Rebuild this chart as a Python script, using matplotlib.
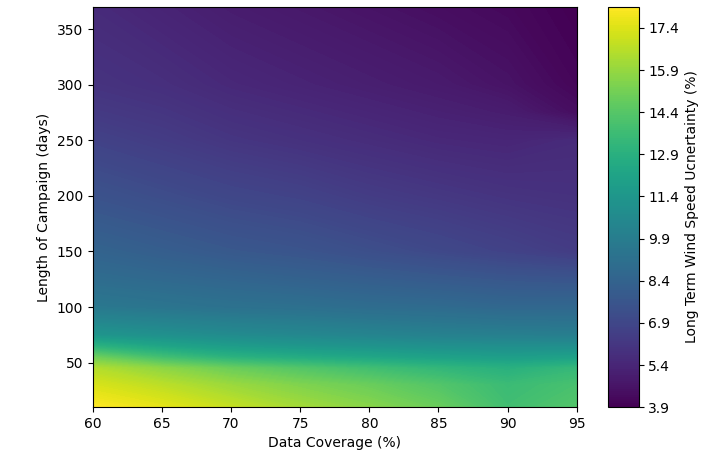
import numpy as np
import matplotlib
matplotlib.use("Agg")
import matplotlib.pyplot as plt

# Data coverage (%) and campaign length (days)
coverage = [60, 65, 70, 75, 80, 85, 90, 95]
days = [10, 30, 45, 55, 65, 75, 100, 125, 150, 200, 250, 275, 300, 370]

# Long term wind speed uncertainty (%) - one row per campaign length
u_10 = [18.15, 17.6, 16.9, 16.2, 15.6, 14.9, 13.8, 14.3]
u_30 = [17.3, 16.7, 16.0, 15.4, 14.9, 14.3, 13.6, 14.0]
u_45 = [16.5, 15.7, 14.9, 14.3, 13.8, 13.3, 12.9, 13.4]
u_55 = [15.0, 13.8, 13.0, 12.6, 12.3, 12.0, 11.8, 12.0]
u_65 = [13.0, 12.2, 11.7, 11.4, 11.2, 11.0, 10.9, 10.9]
u_75 = [11.3, 11.0, 10.7, 10.5, 10.3, 10.1, 10.0, 9.9]
u_100 = [9.6, 9.4, 9.2, 9.1, 8.9, 8.8, 8.6, 8.6]
u_125 = [8.9, 8.7, 8.5, 8.3, 8.1, 7.9, 7.7, 7.6]
u_150 = [8.4, 8.1, 7.8, 7.6, 7.3, 7.0, 6.7, 6.4]
u_200 = [7.5, 7.2, 6.9, 6.7, 6.4, 6.2, 6.0, 5.9]
u_250 = [6.7, 6.4, 6.1, 5.9, 5.7, 5.5, 5.4, 5.6]
u_275 = [6.3, 6.1, 5.8, 5.6, 5.4, 5.2, 5.0, 4.4]
u_300 = [6.0, 5.8, 5.5, 5.3, 5.1, 4.9, 4.6, 4.1]
u_370 = [5.6, 5.3, 5.0, 4.8, 4.6, 4.4, 4.2, 3.9]

Z = np.array([u_10, u_30, u_45, u_55, u_65, u_75, u_100, u_125,
              u_150, u_200, u_250, u_275, u_300, u_370])
X, Y = np.meshgrid(coverage, days)

fig = plt.figure(figsize=(7.2, 4.58), dpi=100)
ax = fig.add_axes([0.129, 0.111, 0.672, 0.874])
cax = fig.add_axes([0.844, 0.111, 0.043, 0.874])

levels = np.linspace(Z.min(), Z.max(), 200)
cs = ax.contourf(X, Y, Z, levels=levels, cmap="viridis")

ax.set_xlabel("Data Coverage (%)")
ax.set_ylabel("Length of Campaign (days)")
ax.set_xticks([60, 65, 70, 75, 80, 85, 90, 95])
ax.set_yticks([50, 100, 150, 200, 250, 300, 350])

cbar = fig.colorbar(cs, cax=cax, ticks=np.arange(Z.min(), Z.max(), 1.5), format="%.1f")
cbar.set_label("Long Term Wind Speed Ucnertainty (%)")

fig.savefig("out.png", dpi=100)
